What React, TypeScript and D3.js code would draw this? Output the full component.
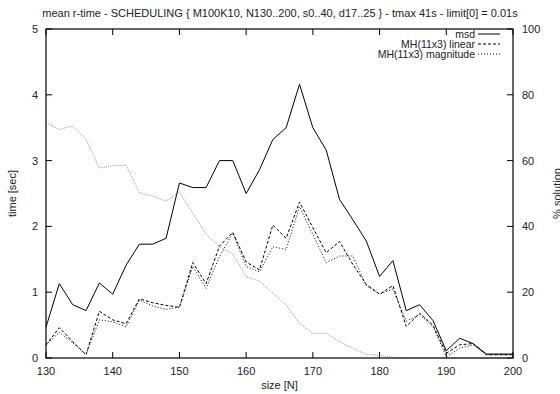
import React from 'react';
import * as d3 from 'd3';

const sizes = [130, 132, 134, 136, 138, 140, 142, 144, 146, 148, 150, 152, 154, 156, 158, 160, 162, 164,
  166, 168, 170, 172, 174, 176, 178, 180, 182, 184, 186, 188, 190, 192, 194, 196, 198, 200];

const msd = [0.47, 1.13, 0.81, 0.72, 1.14, 0.97, 1.41, 1.73, 1.73, 1.82, 2.66, 2.59, 2.59, 3.0, 3.0, 2.5, 2.86, 3.32,
  3.5, 4.16, 3.5, 3.16, 2.41, 2.1, 1.78, 1.24, 1.48, 0.72, 0.81, 0.57, 0.11, 0.3, 0.22, 0.06, 0.06, 0.06];

const mhLinear = [0.2, 0.46, 0.25, 0.05, 0.71, 0.58, 0.52, 0.9, 0.84, 0.8, 0.77, 1.45, 1.13, 1.7, 1.91, 1.46, 1.34, 2.02,
  1.82, 2.37, 1.98, 1.6, 1.77, 1.42, 1.12, 0.97, 1.1, 0.48, 0.68, 0.5, 0.07, 0.2, 0.22, 0.05, 0.05, 0.05];

const mhMagnitude = [0.2, 0.39, 0.23, 0.05, 0.58, 0.55, 0.47, 0.88, 0.79, 0.74, 0.77, 1.39, 1.06, 1.54, 1.9, 1.39, 1.31, 1.69,
  1.65, 2.3, 1.88, 1.45, 1.55, 1.55, 1.1, 0.97, 1.05, 0.56, 0.66, 0.48, 0.02, 0.15, 0.2, 0.05, 0.05, 0.05];

// % solution, right axis
const solution = [71.5, 69.5, 70.5, 66.5, 57.7, 58.5, 58.6, 50.2, 49.2, 47.7, 50.5, 44, 37.6, 33.8, 31.6, 24.7, 23.4, 19.7,
  16.1, 10.5, 7.5, 7.5, 5.0, 2.9, 1.1, 0.8, 0.2, 0, 0, 0, 0, 0, 0, 0, 0, 0];

const xTicks = [130, 140, 150, 160, 170, 180, 190, 200];
const yTicks = [0, 1, 2, 3, 4, 5];
const y2Ticks = [0, 20, 40, 60, 80, 100];

const legend = [
  { name: 'msd', values: msd, dash: '' },
  { name: 'MH(11x3) linear', values: mhLinear, dash: '3,2' },
  { name: 'MH(11x3) magnitude', values: mhMagnitude, dash: '1,2' },
];

const W = 560, H = 394;
const left = 46, right = 513, top = 29, bottom = 358;
const font = '"Liberation Sans", Arial, sans-serif';

export default function App() {
  const x = d3.scaleLinear().domain([130, 200]).range([left, right]);
  const y = d3.scaleLinear().domain([0, 5]).range([bottom, top]);
  const y2 = d3.scaleLinear().domain([0, 100]).range([bottom, top]);

  const line = d3.line<number>().x((_, i) => x(sizes[i])).y(d => y(d));
  const line2 = d3.line<number>().x((_, i) => x(sizes[i])).y(d => y2(d));

  const tk = 6;

  return (
    <svg width={W} height={H} style={{ position: 'absolute', left: 0, top: 0, background: '#fff' }}
      fontFamily={font} fontSize={11}>
      <text x={280} y={17} textAnchor="middle" fill="#222">
        mean r-time - SCHEDULING {'{'} M100K10, N130..200, s0..40, d17..25 {'}'} - tmax 41s - limit[0] = 0.01s
      </text>

      {/* ticks */}
      {xTicks.map(t => (
        <g key={'x' + t}>
          <line x1={x(t)} x2={x(t)} y1={bottom} y2={bottom - tk} stroke="#000" />
          <line x1={x(t)} x2={x(t)} y1={top} y2={top + tk} stroke="#000" />
          <text x={x(t)} y={bottom + 17} textAnchor="middle" fill="#222">{t}</text>
        </g>
      ))}
      {yTicks.map(t => (
        <g key={'y' + t}>
          <line x1={left} x2={left + tk} y1={y(t)} y2={y(t)} stroke="#000" />
          <text x={38} y={y(t) + 4} textAnchor="end" fill="#222">{t}</text>
        </g>
      ))}
      {y2Ticks.map(t => (
        <g key={'r' + t}>
          <line x1={right} x2={right - tk} y1={y2(t)} y2={y2(t)} stroke="#000" />
          <text x={522} y={y2(t) + 4} textAnchor="start" fill="#222">{t}</text>
        </g>
      ))}

      <text transform={`translate(16,${(top + bottom) / 2}) rotate(-90)`} textAnchor="middle" fill="#222">time [sec]</text>
      <text transform={`translate(561,${(top + bottom) / 2}) rotate(-90)`} textAnchor="middle" fill="#222">% solution</text>
      <text x={(left + right) / 2} y={389} textAnchor="middle" fill="#222">size [N]</text>

      {/* series */}
      <path d={line2(solution) ?? ''} fill="none" stroke="#999" strokeWidth={1} strokeDasharray="1,1" />
      {legend.map(s => (
        <path key={s.name} d={line(s.values) ?? ''} fill="none" stroke="#000" strokeWidth={1}
          strokeDasharray={s.dash || undefined} />
      ))}

      {/* legend */}
      {legend.map((s, i) => (
        <g key={'l' + s.name} transform={`translate(0,${34 + i * 10})`}>
          <text x={475} y={3.5} textAnchor="end" fill="#222" fontSize={10.5}>{s.name}</text>
          <line x1={478} x2={500} y1={0} y2={0} stroke="#000" strokeDasharray={s.dash || undefined} />
        </g>
      ))}

      <rect x={left} y={top} width={right - left} height={bottom - top} fill="none" stroke="#000" strokeWidth={1.2} />
    </svg>
  );
}
